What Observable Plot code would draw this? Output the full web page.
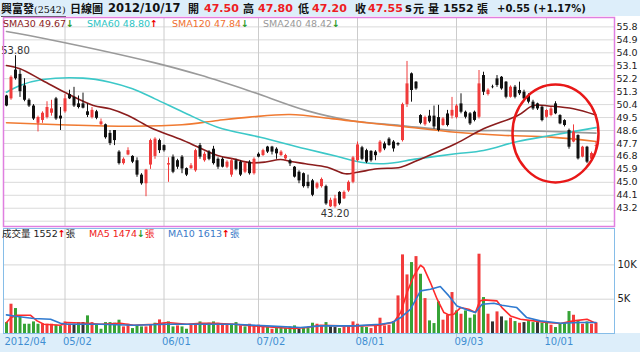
<!DOCTYPE html>
<html><head><meta charset="utf-8">
<script src="https://cdn.jsdelivr.net/npm/d3@7"></script>
<script src="https://cdn.jsdelivr.net/npm/@observablehq/plot@0.6"></script>
<style>
body{margin:0;background:#fff;}
#wrap{position:relative;width:640px;height:352px;overflow:hidden;background:#fff;font-family:"DejaVu Sans","Noto Sans CJK TC",sans-serif;}
#titlebar{position:absolute;left:0;top:0;width:640px;height:16px;background:#ddeefa;}
.t{position:absolute;top:1px;line-height:15px;font-size:11.5px;font-weight:bold;color:#111;white-space:nowrap;}
.r{color:#ee1d23;font-size:11px}
.cj{font-family:"Noto Sans CJK TC",sans-serif;font-size:11px}
.lg{position:absolute;font-size:9.5px;line-height:12px;white-space:nowrap;z-index:5}
.up{color:#e00;font-weight:bold}
.dn{color:#2a9a2a;font-weight:bold}
#bottom{position:absolute;left:0;top:333px;width:640px;height:19px;background:#ddeefa}
#price{position:absolute;left:0;top:16px}
#vol{position:absolute;left:0;top:227px}
</style></head>
<body>
<div id="wrap">
  <div id="titlebar">
    <span class="t cj" style="left:1px;border-bottom:1px solid #555;">興富發<span style="font:9.5px 'DejaVu Serif',serif;">(2542)</span></span>
    <span class="t cj" style="left:70px">日線圖</span>
    <span class="t" style="left:108px">2012/10/17</span>
    <span class="t cj" style="left:188px">開</span><span class="t r" style="left:204px">47.50</span>
    <span class="t cj" style="left:243px">高</span><span class="t r" style="left:258px">47.80</span>
    <span class="t cj" style="left:298px">低</span><span class="t r" style="left:312px">47.20</span>
    <span class="t cj" style="left:355px">收</span><span class="t r" style="left:368px">47.55</span>
    <span class="t" style="left:405px">s</span><span class="t cj" style="left:413px">元</span>
    <span class="t cj" style="left:428px">量</span><span class="t" style="left:443px;font-size:11px">1552</span><span class="t cj" style="left:477px">張</span>
    <span class="t" style="left:497px;font-size:10px">+0.55 (+1.17%)</span>
  </div>
  <div id="bottom"></div>
  <div id="price"></div>
  <div id="vol"></div>
  <div class="lg" style="left:3px;top:18px;color:#8b1d1d">SMA30 49.67<span class="dn">↓</span></div>
  <div class="lg" style="left:87px;top:18px;color:#2cc4c4">SMA60 48.80<span class="up">↑</span></div>
  <div class="lg" style="left:172px;top:18px;color:#f07030">SMA120 47.84<span class="dn">↓</span></div>
  <div class="lg" style="left:263px;top:18px;color:#999">SMA240 48.42<span class="dn">↓</span></div>
  <div class="lg" style="left:2px;top:228px;color:#222">成交量 1552<span class="up">↑</span>張</div>
  <div class="lg" style="left:89px;top:228px;color:#f02020">MA5 1474<span class="dn">↓</span>張</div>
  <div class="lg" style="left:168px;top:228px;color:#3a7ac8">MA10 1613<span class="up">↑</span>張</div>
</div>
<script>
// ---- data (trading-day index 0..131, 2012/04 .. 2012/10/17) ----
const open  = [51.0,50.8,52.8,52.5,51.7,50.7,50.3,49.1,49.3,49.5, 49.8,50.8,49.6,49.9,51.1,50.9,50.45,50.45,49.9,49.5,
               49.9,49.0,49.0,48.4,48.6,47.1,46.3,46.9,46.8,46.5, 45.5,44.9,46.2,46.8,47.9,47.55,46.2,46.75,46.5,46.75,
               45.95,45.95,45.8,47.55,46.5,47.1,47.3,46.6,46.6,46.05, 45.5,46.5,46.4,45.7,46.4,45.6,46.95,46.86,47.45,47.45,
               47.3,46.86,46.63,46.5,46.05,45.7,45.6,45.0,45.1,44.6, 44.7,44.7,43.3,43.3,44.3,43.85,44.4,45.0,46.5,47.4,
               47.2,47.15,47.1,47.1,47.67,48.0,47.8,47.7,47.9,50.4, 52.54,51.96,49.64,49.0,49.6,49.6,49.5,48.95,49.75,49.6,
               49.5,50.45,49.87,49.76,49.87,49.52,52.42,51.1,51.62,52.19, 52.3,51.96,50.91,51.61,51.38,51.26,51.03,50.57,50.45,50.22,
               49.52,49.64,50.45,49.64,49.29,48.6,47.8,48.25,46.75,47.44, 46.6,47.5];
const high  = [51.05,52.4,53.8,52.8,52.2,50.8,50.4,49.6,49.9,50.6, 50.7,50.9,50.2,51.1,51.4,51.6,51.0,51.2,50.45,50.2,
               50.0,49.4,49.05,48.6,48.6,47.2,46.7,47.4,46.85,46.7, 45.6,45.9,48.0,48.1,48.0,47.6,46.7,46.9,46.6,46.86,
               46.0,46.3,47.3,47.7,47.1,47.2,47.5,46.7,46.7,46.5, 46.6,46.6,46.5,46.4,46.5,46.7,47.05,47.3,47.5,47.5,
               47.4,47.2,46.95,46.6,46.1,45.8,45.65,45.5,45.2,45.0, 45.3,44.8,43.9,44.1,44.35,44.4,45.1,46.8,47.8,47.5,
               47.3,47.2,47.2,47.9,47.8,48.1,47.9,47.75,50.5,53.4, 52.6,52.0,49.7,49.6,50.0,50.3,50.35,49.5,50.0,50.9,
               50.4,51.15,49.95,49.85,49.95,52.77,52.65,51.5,51.75,52.42, 52.35,52.0,51.7,51.73,51.96,51.4,51.15,50.7,50.5,50.3,
               50.05,50.2,50.6,49.7,49.35,48.7,48.99,48.3,47.5,47.5, 47.1,47.8];
const low   = [50.25,50.7,52.1,50.9,50.6,50.2,49.3,48.5,49.1,49.4, 49.6,49.3,48.6,49.8,50.75,50.2,50.1,50.1,49.5,49.4,
               49.35,48.95,48.0,47.55,47.55,46.2,46.2,46.85,46.3,45.35, 44.8,44.0,45.9,46.6,47.0,47.1,45.0,45.6,45.9,45.6,
               45.4,45.9,45.7,46.6,46.4,46.5,46.2,45.9,46.0,45.95, 45.35,45.8,45.4,45.6,45.5,45.5,46.7,46.8,47.0,46.9,
               46.6,46.8,46.5,46.1,45.3,44.9,44.6,44.55,44.0,44.5, 44.6,43.4,43.25,43.2,43.4,43.8,44.3,44.9,46.4,46.5,
               46.3,46.4,46.5,47.0,47.2,47.5,47.1,47.5,47.8,50.2, 50.57,51.4,49.0,48.9,49.1,48.7,48.5,48.9,48.85,49.4,
               49.4,49.76,49.4,48.95,49.2,49.4,51.03,51.0,51.5,51.6, 51.4,50.8,50.85,50.8,51.03,50.7,50.45,50.0,49.99,49.2,
               49.45,49.55,49.7,49.0,48.85,47.3,47.75,46.55,46.7,46.3, 46.5,47.2];
const close = [50.3,52.3,52.2,51.3,50.7,50.3,49.4,49.5,49.8,50.2, 50.1,49.4,49.4,50.8,50.8,50.3,50.2,50.15,49.65,50.0,
               49.45,49.2,48.1,47.7,47.9,46.3,46.6,47.2,46.4,45.5, 44.9,45.85,47.9,48.0,47.2,47.2,46.3,45.7,46.05,45.93,
               45.5,46.15,47.2,46.75,46.95,46.6,46.3,46.05,46.05,46.4, 46.5,45.9,45.5,46.3,45.6,46.6,46.75,47.2,47.1,47.1,
               46.98,47.1,46.86,46.28,45.36,45.1,44.7,44.7,44.1,44.9, 45.2,43.5,43.75,43.85,43.5,44.3,45.0,46.7,47.6,46.6,
               46.4,46.5,46.85,47.79,47.32,47.56,47.32,47.6,50.4,51.84, 51.38,51.49,49.1,49.5,49.2,48.85,48.6,49.4,48.95,50.0,
               50.3,49.87,49.52,49.06,49.3,51.84,51.26,51.4,51.58,51.73, 51.49,50.91,51.61,50.91,51.15,50.8,50.57,50.1,50.1,49.29,
               49.99,50.1,49.76,49.06,48.95,47.44,48.5,46.63,47.44,46.4, 47.0,47.55];

const volume = [1590,4270,3640,2420,1350,1350,1690,1350,1350,1350, 1350,1210,1010,1690,1350,1350,1590,1590,2570,1590,
                1210,620,1590,1590,1500,1940,960,1350,720,1110, 960,960,1210,1500,1980,1500,1690,960,1110,960,
                620,1350,1350,1690,1350,1500,1690,1500,1350,1350, 1350,1590,1110,960,1350,1110,1210,1110,870,620,
                720,720,720,960,1110,620,720,720,1500,1350, 1110,1590,960,870,720,960,1110,1690,1350,960,
                870,720,1210,2230,1110,1210,1690,5480,11460,8540, 10340,11210,8640,5090,1840,1450,4610,1940,2710,5970,
                3290,2810,3290,2230,2710,11560,5240,2810,1690,3150, 2420,1840,2230,1740,1500,1590,1740,1590,1590,1500,
                1590,1210,870,1350,1500,3200,2660,1740,1350,1690, 1350,1552];
// change vs previous close: r = up, g = down, k = unchanged
const volDir = ("grggggggrr"+"rggrrkgkgr"+"ggggggrrgg"+"grrgrrggrg"+"grrgrggrrr"+"ggrgrrrrgr"+"gggggkgggr"+
                "rgkkgrrrrg"+"grrrrrgrrr"+"grgrgggrrr"+"grgggrgrkr"+"kgrgrkggkg"+"grggggrgrg"+"rr").split("");

// moving averages: [day index, value]
const sma30  = [[0,53.12],[3,52.89],[8,52.08],[13.6,51.15],[19.3,50.34],[23,50.11],[27,49.64],[30.4,49.07],[32.4,48.74],[39.3,47.91],[46.9,46.86],[50.4,46.63],[54.2,46.36],[57.6,46.41],[60.9,46.59],[63.1,46.45],[66.4,46.29],[71.3,46.05],[75.3,45.59],[78,45.7],[82.4,45.94],[87.6,46.05],[91.3,46.52],[99.8,47.68],[106,48.72],[113.6,49.64],[117.1,50.34],[120.9,50.29],[126,50.11],[131,49.67]];
const sma60  = [[0,51.26],[3,51.73],[8,52.14],[17,52.24],[23,51.96],[28,51.5],[33,50.8],[39.3,49.87],[46.9,48.83],[56.4,48.13],[66.4,47.33],[72.7,46.86],[78.7,46.4],[83.8,46.29],[91.3,46.63],[99.8,46.98],[106,47.21],[113.6,47.84],[120.9,48.25],[131,48.80]];
const sma120 = [[0,49.14],[12,49.0],[28,48.9],[39,49.0],[47,49.3],[54,49.53],[63,49.71],[72.7,49.41],[80,49.14],[87.6,48.9],[99.8,48.48],[110,48.27],[121,48.14],[131,47.84]];
const sma240 = [[0,55.48],[5,55.2],[33,53.3],[43,52.45],[54,51.35],[66.5,50.0],[76.4,49.3],[87.6,48.95],[99.8,48.6],[110,48.6],[121,48.53],[131,48.42]];
const volMa5  = [[0,1594],[1,2323],[2.4,2663],[5.3,2663],[6.8,1837],[8.3,1351],[12,1205],[13.5,1594],[17.9,1497],[20.9,1351],[25.3,1497],[28.3,1205],[32.7,1351],[35.7,1594],[40.1,1351],[43.1,1497],[46.1,1497],[50.5,1351],[54.9,1108],[60.1,865],[63.8,720],[66.8,865],[69.8,1205],[74.2,1108],[78.7,1108],[83,1205],[86.1,1691],[87.6,3051],[89,5967],[90.5,8397],[92,9951],[92.7,9611],[94.2,7425],[95.7,4995],[97.2,3051],[98.3,2712],[99.4,2809],[100.9,3780],[102.7,3538],[104.2,3051],[105.2,4752],[106,4898],[109,4752],[110.1,3780],[112,2566],[114.2,2080],[117.2,1837],[120.1,1594],[123.1,1448],[126,1837],[129,2080],[131,1474]];
const volMa10 = [[0,2712],[2.4,2469],[6.1,2177],[9.8,2080],[12,1497],[13.5,1351],[20.9,1351],[28.3,1205],[35.7,1351],[43.1,1351],[50.5,1351],[57.9,1108],[65.3,865],[69.8,1108],[77.2,1108],[83,1351],[85.7,1594],[87.6,2323],[89.8,3538],[92,6210],[94.2,6453],[96.4,6842],[98.3,5481],[100.1,4023],[102.4,3440],[104.2,3051],[105.7,4267],[108.3,4412],[110.1,4120],[113.4,3780],[115.6,2323],[118.6,1837],[123.1,1497],[127.5,1594],[131,1613]];

const monthIdx    = [0, 13, 35, 56, 78, 100, 120];
const monthLabels = ["2012/04","05/02","06/01","07/02","08/01","09/03","10/01"];
const priceTicks  = [43.2,44.1,45.0,45.9,46.8,47.7,48.6,49.5,50.4,51.3,52.2,53.1,54.0,54.9,55.8];
const priceGrid   = [42.3,43.2,44.1,45.0,45.9,46.8,47.7,48.6,49.5,50.4,51.3,52.2,53.1,54.0,54.9,55.8];
const volTicks    = [5000, 10000];
const volTickLabels = ["5K", "10K"];
const extremeHigh = [{i: 2, p: 53.8}];
const extremeLow  = [{i: 73, p: 43.2}];
const highlight   = [{i: 122, p: 48.4}];

// ---- build ----
const candles = open.map((o, i) => ({i, open: o, high: high[i], low: low[i], close: close[i], dir: close[i] >= o ? "up" : "down"}));
const vols = volume.map((v, i) => ({i, v, dir: volDir[i]}));
const months = monthIdx.map((i, k) => ({i, label: monthLabels[k]}));
const xDomain = [-0.667, 135.11];
const font = {background: "transparent", fontFamily: "DejaVu Sans", fontSize: "9.5px", overflow: "visible"};
const lineOf = (arr, color) => Plot.line(arr, {x: d => d[0], y: d => d[1], stroke: color, strokeWidth: 1.6, curve: "catmull-rom"});

const pricePlot = Plot.plot({
  width: 640, height: 211, marginLeft: 3, marginRight: 26, marginTop: 1, marginBottom: 1,
  x: {domain: xDomain, axis: null},
  y: {domain: [41.93, 56.453], axis: null},
  color: {domain: ["up", "down"], range: ["#f03c3c", "#111111"]},
  style: font,
  marks: [
    Plot.ruleY(priceGrid, {stroke: "#dadada"}),
    Plot.ruleX(monthIdx.slice(1), {stroke: "#cccccc"}),
    lineOf(sma240, "#9a9a9a"),
    lineOf(sma120, "#f07a32"),
    lineOf(sma60, "#3cc8c8"),
    lineOf(sma30, "#8b1d1d"),
    Plot.ruleX(candles, {x: "i", y1: "low", y2: "high", stroke: "dir"}),
    Plot.ruleX(candles, {x: "i", y1: "open", y2: "close", stroke: "dir", strokeWidth: 3}),
    Plot.text(extremeHigh, {x: "i", y: "p", text: d => d.p.toFixed(2), lineAnchor: "bottom", dy: -2, fill: "#333", fontSize: 10}),
    Plot.text(extremeLow, {x: "i", y: "p", text: d => d.p.toFixed(2), lineAnchor: "top", dy: 2, fill: "#333", fontSize: 10}),
    Plot.text(priceTicks, {y: d => d, text: d => d.toFixed(1), frameAnchor: "right", textAnchor: "start", dx: 2, fill: "#222"}),
    Plot.dot(highlight, {x: "i", y: "p", r: 46, stroke: "#e81818", strokeWidth: 2.5, fill: "none"}),
    Plot.frame({stroke: "#e07fe0", strokeWidth: 1.5})
  ]
});
// turn the highlight circle into the slightly taller ellipse of the original
pricePlot.querySelectorAll('g[aria-label="dot"] circle').forEach(c => {
  let cx = +c.getAttribute("cx") || 0, cy = +c.getAttribute("cy") || 0;
  const tr = c.getAttribute("transform");
  if (tr) { const m = tr.match(/translate\(\s*([-\d.]+)[ ,]+([-\d.]+)\s*\)/); if (m) { cx += +m[1]; cy += +m[2]; } }
  const e = document.createElementNS("http://www.w3.org/2000/svg", "ellipse");
  e.setAttribute("cx", cx); e.setAttribute("cy", cy); e.setAttribute("rx", 43); e.setAttribute("ry", 49);
  e.setAttribute("fill", "none"); e.setAttribute("stroke", "#e81818"); e.setAttribute("stroke-width", 2.5);
  c.replaceWith(e);
});
document.getElementById("price").appendChild(pricePlot);

const volPlot = Plot.plot({
  width: 640, height: 125, marginLeft: 3, marginRight: 26, marginTop: 1, marginBottom: 19,
  x: {domain: xDomain, axis: null},
  y: {domain: [0, 15306], axis: null},
  color: {domain: ["r", "g", "k"], range: ["#f23b3b", "#36a336", "#333333"]},
  style: font,
  marks: [
    Plot.frame({fill: "white"}),
    Plot.ruleY(volTicks, {stroke: "#d6d6d6"}),
    Plot.ruleX(monthIdx.slice(1), {stroke: "#cccccc", insetBottom: -4}),
    Plot.ruleX(vols, {x: "i", y1: 0, y2: "v", stroke: "dir", strokeWidth: 3}),
    Plot.line(volMa5, {x: d => d[0], y: d => d[1], stroke: "#ff2a2a", strokeWidth: 1.6}),
    Plot.line(volMa10, {x: d => d[0], y: d => d[1], stroke: "#2f7ad0", strokeWidth: 1.6}),
    Plot.text(volTicks, {y: d => d, text: (d, k) => volTickLabels[k], frameAnchor: "right", textAnchor: "start", dx: 3, fill: "#222", fontSize: 10}),
    Plot.text(months, {x: "i", text: "label", frameAnchor: "bottom", dy: 11, dx: -2, textAnchor: "start", fill: "#3f8fd2", fontSize: 10}),
    Plot.frame({stroke: "#86bde8"})
  ]
});
document.getElementById("vol").appendChild(volPlot);
</script>
</body></html>
